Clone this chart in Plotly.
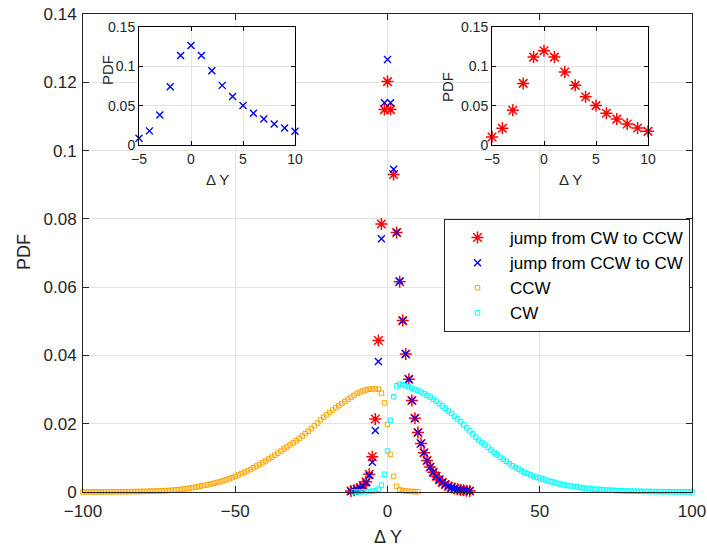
import plotly.graph_objects as go

# ---------------- data ----------------
jump_x = list(range(-12, 28))
jump_cw_to_ccw = [0.0003, 0.0005, 0.0008, 0.0012, 0.0019, 0.0030, 0.0052, 0.0103, 0.0214, 0.0444, 0.0785, 0.1120,
                  0.1202,
                  0.1120, 0.0930, 0.0760, 0.0616, 0.0502, 0.0404, 0.0330, 0.0268, 0.0216, 0.0174,
                  0.0142, 0.0115, 0.0092, 0.0073, 0.0058, 0.0046, 0.0036, 0.0028, 0.0022, 0.0017,
                  0.0013, 0.0010, 0.0008, 0.0006, 0.0005, 0.0004, 0.0003]
jump_ccw_to_cw = [0.0002, 0.0004, 0.0007, 0.0011, 0.0017, 0.0027, 0.0048, 0.0087, 0.0180, 0.0382, 0.0742, 0.1140,
                  0.1267,
                  0.1140, 0.0945, 0.0760, 0.0617, 0.0502, 0.0404, 0.0330, 0.0268, 0.0216, 0.0174,
                  0.0142, 0.0115, 0.0092, 0.0073, 0.0058, 0.0046, 0.0036, 0.0028, 0.0022, 0.0017,
                  0.0013, 0.0010, 0.0008, 0.0006, 0.0005, 0.0004, 0.0003]

ccw_x = list(range(-100, 11))
ccw_pdf = [0.00002, 0.00002, 0.00003, 0.00003, 0.00003, 0.00004, 0.00004, 0.00005, 0.00005, 0.00006,
           0.00006, 0.00007, 0.00008, 0.00009, 0.00010, 0.00011, 0.00012, 0.00013, 0.00015, 0.00016,
           0.00018, 0.00020, 0.00022, 0.00025, 0.00028,
           0.00031, 0.00035, 0.00039, 0.00044, 0.00050, 0.00057, 0.00066, 0.00076, 0.00088, 0.00100,
           0.00114, 0.00128, 0.00143, 0.00160, 0.00178, 0.00196, 0.00215, 0.00235, 0.00255, 0.00278,
           0.00300, 0.00325, 0.00355, 0.00385, 0.00420,
           0.0046, 0.0050, 0.0054, 0.0058, 0.0062, 0.0066, 0.0071, 0.0076, 0.0081, 0.0086,
           0.0091, 0.0097, 0.0102, 0.0108, 0.0114, 0.0120, 0.0126, 0.0132, 0.0138, 0.0144,
           0.0150, 0.0157, 0.0164, 0.0171, 0.0178, 0.0186, 0.0194, 0.0202, 0.0211, 0.0219,
           0.0226, 0.0233, 0.0240, 0.0247, 0.0253, 0.0259, 0.0265, 0.0271, 0.0277, 0.0283,
           0.0289, 0.0293, 0.0296, 0.0299, 0.0301, 0.0302, 0.0302, 0.0301, 0.0290, 0.0261,
           0.0198, 0.0110, 0.0046, 0.0017, 0.0007, 0.0004, 0.0003, 0.00022, 0.00016, 0.00012, 0.00008]

cw_x = list(range(-11, 101))
cw_pdf = [0.00003, 0.00004, 0.00005, 0.00007, 0.00010, 0.00015, 0.00025, 0.00040, 0.00080, 0.00200, 0.00520,
          0.0120, 0.0210, 0.0279, 0.0311, 0.0316, 0.0314, 0.0311, 0.0308, 0.0304, 0.0300,
          0.0297, 0.0293, 0.0288, 0.0283, 0.0278, 0.0272, 0.0266, 0.0259, 0.0252, 0.0245,
          0.0237, 0.0230, 0.0222, 0.0214, 0.0206, 0.0197, 0.0188, 0.0179, 0.0170, 0.0161,
          0.0152, 0.0145, 0.0138, 0.0131, 0.0123, 0.0116, 0.0109, 0.0102, 0.0096, 0.0090,
          0.0083, 0.0077, 0.0072, 0.0067, 0.0062, 0.0058, 0.0054, 0.0050, 0.0046, 0.0043,
          0.0041, 0.0038, 0.0035, 0.0032, 0.0030, 0.0028, 0.0025, 0.0023, 0.0021, 0.0019,
          0.0018, 0.0016, 0.0015, 0.0014, 0.0012, 0.0011, 0.0010, 0.0009, 0.0008, 0.0008,
          0.0007, 0.0006, 0.0006, 0.0005, 0.0005, 0.0004, 0.0004, 0.00035, 0.0003, 0.00028,
          0.00025, 0.00023, 0.00021, 0.00019, 0.00017, 0.00016, 0.00014, 0.00013, 0.00012, 0.00011,
          0.00010, 0.00009, 0.00008, 0.00008, 0.00007, 0.00006, 0.00006, 0.00005, 0.00005, 0.00004, 0.00004]

x_ticks = [-100, -50, 0, 50, 100]
y_ticks = [0, 0.02, 0.04, 0.06, 0.08, 0.1, 0.12, 0.14]
inset_x_ticks = [-5, 0, 5, 10]
inset_y_ticks = [0, 0.05, 0.1, 0.15]
inset_y_labels = ["0", "0.05", "0.1", "0.15"]
inset_lo, inset_hi = -5, 10

# ---------------- figure ----------------
FONT = "Liberation Sans, Arial, sans-serif"
AX = "#262626"
GRID = "#e4e4e4"

red_marker = dict(symbol="asterisk-open", size=10, line=dict(color="#ff0000", width=1.5), color="#ff0000")
blue_marker = dict(symbol="x-thin-open", size=7, line=dict(color="#0000ff", width=1.4), color="#0000ff")

fig = go.Figure()
fig.add_trace(go.Scatter(x=jump_x, y=jump_cw_to_ccw, mode="markers", name="jump from CW to CCW",
                         marker=red_marker, cliponaxis=False))
fig.add_trace(go.Scatter(x=jump_x, y=jump_ccw_to_cw, mode="markers", name="jump from CCW to CW",
                         marker=blue_marker, cliponaxis=False))
fig.add_trace(go.Scatter(x=ccw_x, y=ccw_pdf, mode="markers", name="CCW",
                         marker=dict(symbol="square-open", size=4.5, color="#ffa500",
                                     line=dict(color="#ffa500", width=1)), cliponaxis=False))
fig.add_trace(go.Scatter(x=cw_x, y=cw_pdf, mode="markers", name="CW",
                         marker=dict(symbol="square-open", size=4.5, color="#00ffff",
                                     line=dict(color="#00ffff", width=1)), cliponaxis=False))

# insets
in_x = [x for x in jump_x if inset_lo <= x <= inset_hi]
in_blue = [v for x, v in zip(jump_x, jump_ccw_to_cw) if inset_lo <= x <= inset_hi]
in_red = [v for x, v in zip(jump_x, jump_cw_to_ccw) if inset_lo <= x <= inset_hi]
fig.add_trace(go.Scatter(x=in_x, y=in_blue, mode="markers", marker=blue_marker, showlegend=False,
                         xaxis="x2", yaxis="y2", cliponaxis=False))
fig.add_trace(go.Scatter(x=in_x, y=in_red, mode="markers", marker=red_marker, showlegend=False,
                         xaxis="x3", yaxis="y3", cliponaxis=False))

main_ax = dict(showline=True, linecolor=AX, linewidth=1, mirror="ticks", ticks="inside", ticklen=6,
               tickcolor=AX, showgrid=True, gridcolor=GRID, gridwidth=1, zeroline=False, automargin=False,
               tickfont=dict(family=FONT, size=17, color=AX))
inset_ax = dict(showline=True, linecolor="#000000", linewidth=1, mirror="ticks", ticks="inside", ticklen=4,
                tickcolor="#000000", showgrid=True, gridcolor=GRID, gridwidth=1, zeroline=False,
                automargin=False, tickfont=dict(family=FONT, size=14, color=AX))

L, R, T, B = 83, 15, 14, 56
W, H = 707, 548
pw, ph = W - L - R, H - T - B


def px_x(p):
    return (p - L) / pw


def px_y(p):
    return (H - B - p) / ph


i1x = [px_x(139), px_x(295)]
i2x = [px_x(492), px_x(648)]
iy = [px_y(145), px_y(27.3)]

fig.update_layout(
    width=W, height=H,
    margin=dict(l=L, r=R, t=T, b=B),
    paper_bgcolor="white", plot_bgcolor="white",
    font=dict(family=FONT, color=AX),
    xaxis=dict(main_ax, range=[-100, 100], tickvals=x_ticks, domain=[0, 1], ticklabelstandoff=4),
    yaxis=dict(main_ax, range=[0, 0.14], tickvals=y_ticks, domain=[0, 1], ticklabelstandoff=2),
    xaxis2=dict(inset_ax, range=[inset_lo, inset_hi], tickvals=inset_x_ticks, domain=i1x, anchor="y2",
                ticklabelstandoff=1),
    yaxis2=dict(inset_ax, range=[0, 0.15], tickvals=inset_y_ticks, ticktext=inset_y_labels,
                domain=iy, anchor="x2"),
    xaxis3=dict(inset_ax, range=[inset_lo, inset_hi], tickvals=inset_x_ticks, domain=i2x, anchor="y3",
                ticklabelstandoff=1),
    yaxis3=dict(inset_ax, range=[0, 0.15], tickvals=inset_y_ticks, ticktext=inset_y_labels,
                domain=iy, anchor="x3"),
    legend=dict(x=px_x(690), y=px_y(219), xanchor="right", yanchor="top",
                bgcolor="white", bordercolor=AX, borderwidth=1, itemwidth=55,
                font=dict(family=FONT, size=17, color="#000000"), tracegroupgap=0),
    showlegend=True,
)

ann = [
    dict(text="Δ Y", x=0.5, y=px_y(537), font=dict(size=18)),
    dict(text="PDF", x=px_x(24), y=px_y(252), textangle=-90, font=dict(size=18)),
    dict(text="Δ Y", x=px_x(217), y=px_y(180), font=dict(size=15)),
    dict(text="Δ Y", x=px_x(570), y=px_y(180), font=dict(size=15)),
    dict(text="PDF", x=px_x(108), y=px_y(70), textangle=-90, font=dict(size=15)),
    dict(text="PDF", x=px_x(447), y=px_y(87), textangle=-90, font=dict(size=15)),
]
for a in ann:
    fig.add_annotation(xref="paper", yref="paper", showarrow=False, xanchor="center", yanchor="middle",
                       **a)

fig.write_html("out.html")
